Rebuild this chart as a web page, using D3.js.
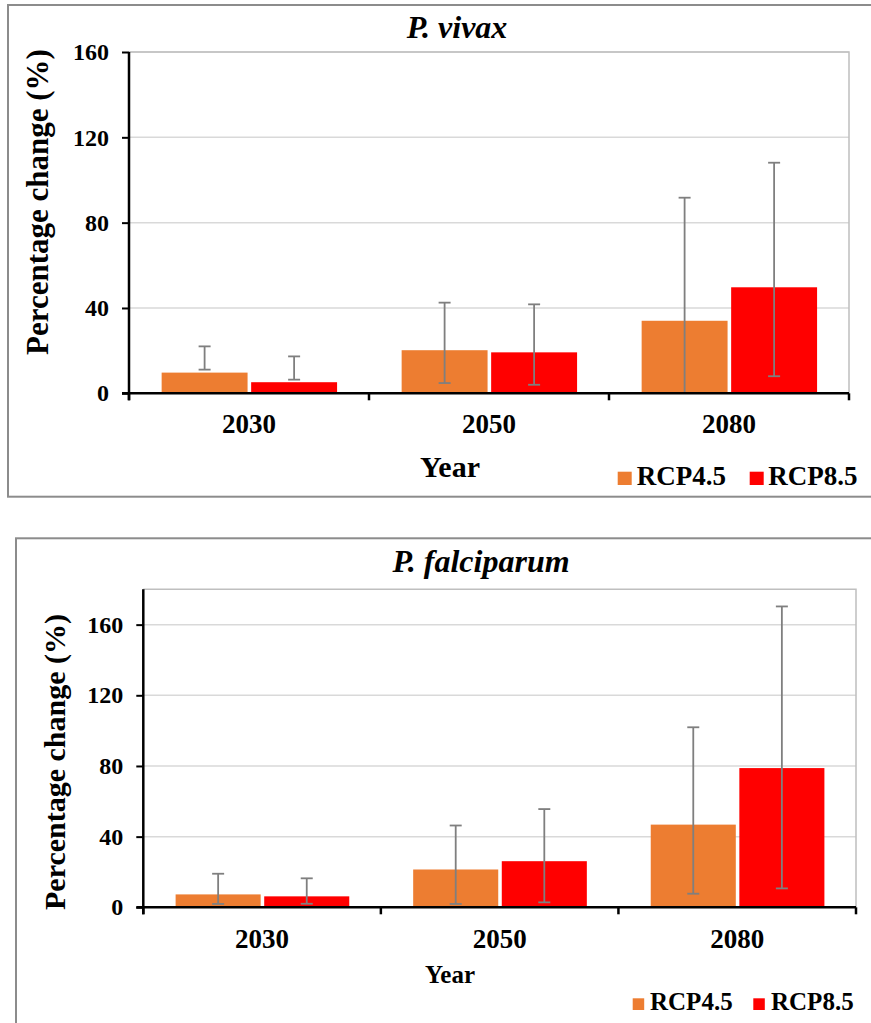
<!DOCTYPE html>
<html>
<head>
<meta charset="utf-8">
<script src="https://cdn.jsdelivr.net/npm/d3@7"></script>
<style>
  body { margin: 0; background: #fff; }
  svg, svg text { font-family: "Liberation Serif", "Times New Roman", Times, "DejaVu Serif", "Noto Serif", serif !important; }
  svg { display: block; }
</style>
</head>
<body>
<svg class="chart" width="871" height="1023"></svg>
<script>
var years = ["2030", "2050", "2080"]
var seriesNames = ["RCP4.5", "RCP8.5"]
var colors = ["#ED7D31", "#FF0000"]

// P. vivax
var vivax45 = [9.7, 20.2, 34.0]
var vivax45Low = [11.1, 4.8, 0]
var vivax45High = [22.0, 42.5, 91.7]
var vivax85 = [5.2, 19.2, 49.7]
var vivax85Low = [6.4, 4.0, 8.0]
var vivax85High = [17.3, 41.7, 108.1]

// P. falciparum
var falc45 = [7.3, 21.4, 46.8]
var falc45Low = [1.9, 1.9, 7.7]
var falc45High = [19.0, 46.3, 101.9]
var falc85 = [6.2, 26.1, 78.8]
var falc85Low = [2.0, 2.8, 10.7]
var falc85High = [16.4, 55.6, 170.3]

var yTicks = [0, 40, 80, 120, 160]

function makeRows(v45, l45, h45, v85, l85, h85) {
    var rows = []
    years.forEach(function(y, i) {
        rows.push({year: y, s: 0, v: v45[i], lo: l45[i], hi: h45[i]})
        rows.push({year: y, s: 1, v: v85[i], lo: l85[i], hi: h85[i]})
    })
    return rows
}

var panels = [
    {title: "P. vivax", rows: makeRows(vivax45, vivax45Low, vivax45High, vivax85, vivax85Low, vivax85High),
     frame: [8, 5, 880, 491.7], left: 129, right: 849, top: 52, bottom: 393.3, yMax: 160,
     titleX: 457, titleY: 38, ylabX: 48, ylabY: 202, ylabSize: 31,
     xlabY: 476.7, xlabSize: 30, catY: 432.7,
     leg: {y: 471.7, h: 13.3, w: 14, fs: 27, items: [617.7, 749.7], tx: [636.7, 768.3], base: 485}},
    {title: "P. falciparum", rows: makeRows(falc45, falc45Low, falc45High, falc85, falc85Low, falc85High),
     frame: [16, 538.3, 880, 500], left: 143.3, right: 856, top: 589.3, bottom: 907.3, yMax: 180,
     titleX: 481, titleY: 571.7, ylabX: 65, ylabY: 762, ylabSize: 30,
     xlabY: 983.3, xlabSize: 25, catY: 948.3,
     leg: {y: 998.3, h: 11.7, w: 11.5, fs: 25, items: [632.7, 753.3], tx: [650, 771], base: 1010}}
]

var svg = d3.select(".chart")

panels.forEach(drawPanel)

function drawPanel(p) {
    var g = svg.append("g")

    g.append("rect")
      .attr("x", p.frame[0]).attr("y", p.frame[1])
      .attr("width", p.frame[2]).attr("height", p.frame[3])
      .attr("fill", "#fff").attr("stroke", "#8c8c8c").attr("stroke-width", 2)

    var x = d3.scaleBand().domain(years).range([p.left, p.right]).padding(0)
    var bw = x.bandwidth()
    var x1 = d3.scaleBand().domain([0, 1])
      .range([bw * 0.136, bw * 0.867]).paddingInner(0.04).paddingOuter(0)
    var y = d3.scaleLinear().domain([0, p.yMax]).range([p.bottom, p.top])

    // gridlines
    g.selectAll(".grid")
      .data(yTicks.filter(function(d) { return d > 0 }))
      .enter().append("line")
      .attr("x1", p.left).attr("x2", p.right)
      .attr("y1", function(d) { return y(d) }).attr("y2", function(d) { return y(d) })
      .attr("stroke", "#d9d9d9").attr("stroke-width", 1.5)

    // plot area outline (top + right)
    g.append("path")
      .attr("d", "M" + p.left + "," + p.top + "H" + p.right + "V" + p.bottom)
      .attr("fill", "none").attr("stroke", "#bfbfbf").attr("stroke-width", 1.5)

    // bars
    g.selectAll(".bar")
      .data(p.rows)
      .enter().append("rect")
      .attr("x", function(d) { return x(d.year) + x1(d.s) })
      .attr("width", x1.bandwidth())
      .attr("y", function(d) { return y(d.v) })
      .attr("height", function(d) { return y(0) - y(d.v) })
      .attr("fill", function(d) { return colors[d.s] })

    // error bars
    var eb = g.selectAll(".err").data(p.rows).enter().append("g")
      .attr("stroke", "#7f7f7f").attr("stroke-width", 1.8)
    var cx = function(d) { return x(d.year) + x1(d.s) + x1.bandwidth() / 2 }
    eb.append("line")
      .attr("x1", cx).attr("x2", cx)
      .attr("y1", function(d) { return y(d.lo) }).attr("y2", function(d) { return y(d.hi) })
    eb.append("line")
      .attr("x1", function(d) { return cx(d) - 6 }).attr("x2", function(d) { return cx(d) + 6 })
      .attr("y1", function(d) { return y(d.hi) }).attr("y2", function(d) { return y(d.hi) })
    eb.filter(function(d) { return d.lo > 0 }).append("line")
      .attr("x1", function(d) { return cx(d) - 6 }).attr("x2", function(d) { return cx(d) + 6 })
      .attr("y1", function(d) { return y(d.lo) }).attr("y2", function(d) { return y(d.lo) })

    // y axis
    var yAxis = g.append("g")
      .attr("transform", "translate(" + p.left + ",0)")
      .call(d3.axisLeft(y).tickValues(yTicks).tickSize(7).tickPadding(13).tickSizeOuter(0))
    yAxis.attr("font-family", null)
    yAxis.select(".domain").attr("stroke", "#000").attr("stroke-width", 2.5)
      .attr("d", "M0," + p.top + "V" + (p.bottom + 7))
    yAxis.selectAll(".tick line").attr("stroke", "#000").attr("stroke-width", 2)
    yAxis.selectAll(".tick text")
      .attr("font-size", 24).attr("font-weight", "bold").attr("fill", "#000")

    // x axis
    var xAxis = g.append("g")
      .attr("transform", "translate(0," + p.bottom + ")")
      .call(d3.axisBottom(x).tickSize(0).tickPadding(0))
    xAxis.attr("font-family", null)
    xAxis.select(".domain").remove()
    xAxis.append("line").attr("x1", p.left - 7).attr("x2", p.right)
      .attr("stroke", "#000").attr("stroke-width", 2.5)
    xAxis.selectAll(".sep")
      .data(years.map(function(d) { return x(d) }).concat([p.right]))
      .enter().append("line")
      .attr("x1", function(d) { return d }).attr("x2", function(d) { return d })
      .attr("y1", 0).attr("y2", 7)
      .attr("stroke", "#000").attr("stroke-width", 2.5)
    xAxis.selectAll(".tick text")
      .attr("y", p.catY - p.bottom).attr("dy", 0)
      .attr("font-size", 27).attr("font-weight", "bold").attr("fill", "#000")

    // title
    g.append("text")
      .attr("x", p.titleX).attr("y", p.titleY)
      .attr("text-anchor", "middle")
      .attr("font-size", 32).attr("font-weight", "bold").attr("font-style", "italic")
      .text(p.title)

    // axis titles
    g.append("text")
      .attr("transform", "translate(" + p.ylabX + "," + p.ylabY + ") rotate(-90)")
      .attr("text-anchor", "middle")
      .attr("font-size", p.ylabSize).attr("font-weight", "bold")
      .text("Percentage change (%)")

    g.append("text")
      .attr("x", 450).attr("y", p.xlabY)
      .attr("text-anchor", "middle")
      .attr("font-size", p.xlabSize).attr("font-weight", "bold")
      .text("Year")

    // legend
    var leg = g.selectAll(".leg").data(seriesNames).enter().append("g")
    leg.append("rect")
      .attr("x", function(d, i) { return p.leg.items[i] })
      .attr("y", p.leg.y).attr("width", p.leg.w).attr("height", p.leg.h)
      .attr("fill", function(d, i) { return colors[i] })
    leg.append("text")
      .attr("x", function(d, i) { return p.leg.tx[i] })
      .attr("y", p.leg.base)
      .attr("font-size", p.leg.fs).attr("font-weight", "bold")
      .text(function(d) { return d })
}
</script>
</body>
</html>
